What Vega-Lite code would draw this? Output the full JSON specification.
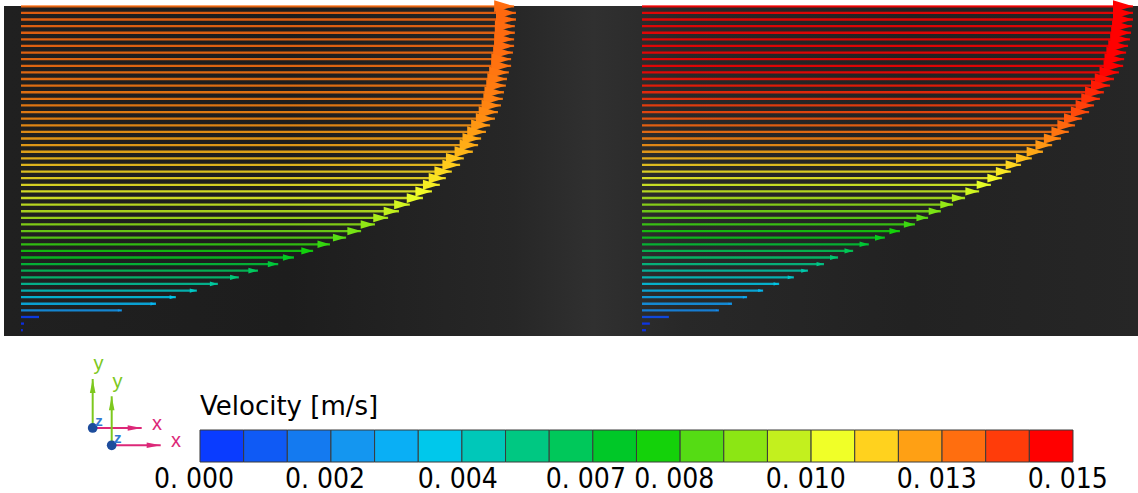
{
  "$schema": "https://vega.github.io/schema/vega-lite/v6.json",
  "padding": {"left": 4, "top": 0, "right": 0, "bottom": 0},
  "bounds": "flush",
  "background": "white",
  "spacing": 94,
  "config": {"view": {"stroke": null}, "axis": {"disable": true}, "legend": {"disable": true}},
  "resolve": {"scale": {"x": "independent", "y": "independent", "color": "independent", "size": "independent"}},
  "datasets": {
    "left": [
      {"row": 0, "v": 0.01315}, {"row": 1, "v": 0.0132}, {"row": 2, "v": 0.0132}, {"row": 3, "v": 0.01317}, {"row": 4, "v": 0.01317},
      {"row": 5, "v": 0.01315}, {"row": 6, "v": 0.01315}, {"row": 7, "v": 0.01312}, {"row": 8, "v": 0.01307}, {"row": 9, "v": 0.01307},
      {"row": 10, "v": 0.01301}, {"row": 11, "v": 0.01296}, {"row": 12, "v": 0.01293}, {"row": 13, "v": 0.01288}, {"row": 14, "v": 0.01285},
      {"row": 15, "v": 0.0128}, {"row": 16, "v": 0.01272}, {"row": 17, "v": 0.01264}, {"row": 18, "v": 0.01251}, {"row": 19, "v": 0.0124},
      {"row": 20, "v": 0.01227}, {"row": 21, "v": 0.01219}, {"row": 22, "v": 0.01205}, {"row": 23, "v": 0.01181}, {"row": 24, "v": 0.01171},
      {"row": 25, "v": 0.01149}, {"row": 26, "v": 0.01133}, {"row": 27, "v": 0.01117}, {"row": 28, "v": 0.01096}, {"row": 29, "v": 0.01072},
      {"row": 30, "v": 0.01037}, {"row": 31, "v": 0.01008}, {"row": 32, "v": 0.00979}, {"row": 33, "v": 0.00944}, {"row": 34, "v": 0.00907},
      {"row": 35, "v": 0.00867}, {"row": 36, "v": 0.00824}, {"row": 37, "v": 0.00779}, {"row": 38, "v": 0.00728}, {"row": 39, "v": 0.00686},
      {"row": 40, "v": 0.00632}, {"row": 41, "v": 0.00581}, {"row": 42, "v": 0.00525}, {"row": 43, "v": 0.00469}, {"row": 44, "v": 0.00413},
      {"row": 45, "v": 0.0036}, {"row": 46, "v": 0.00269}, {"row": 47, "v": 0.00048}, {"row": 48, "v": 0.00008}, {"row": 49, "v": 0.00005}
    ],
    "right": [
      {"row": 0, "v": 0.015}, {"row": 1, "v": 0.015}, {"row": 2, "v": 0.015}, {"row": 3, "v": 0.01497}, {"row": 4, "v": 0.01494},
      {"row": 5, "v": 0.01491}, {"row": 6, "v": 0.01485}, {"row": 7, "v": 0.01479}, {"row": 8, "v": 0.01473}, {"row": 9, "v": 0.0147},
      {"row": 10, "v": 0.01457}, {"row": 11, "v": 0.01442}, {"row": 12, "v": 0.0143}, {"row": 13, "v": 0.01411}, {"row": 14, "v": 0.01399},
      {"row": 15, "v": 0.01381}, {"row": 16, "v": 0.01366}, {"row": 17, "v": 0.01344}, {"row": 18, "v": 0.01323}, {"row": 19, "v": 0.01304},
      {"row": 20, "v": 0.0128}, {"row": 21, "v": 0.01253}, {"row": 22, "v": 0.01225}, {"row": 23, "v": 0.01191}, {"row": 24, "v": 0.01158},
      {"row": 25, "v": 0.01127}, {"row": 26, "v": 0.011}, {"row": 27, "v": 0.01066}, {"row": 28, "v": 0.0103}, {"row": 29, "v": 0.00987},
      {"row": 30, "v": 0.0095}, {"row": 31, "v": 0.00913}, {"row": 32, "v": 0.00874}, {"row": 33, "v": 0.00834}, {"row": 34, "v": 0.00788},
      {"row": 35, "v": 0.00742}, {"row": 36, "v": 0.00693}, {"row": 37, "v": 0.00645}, {"row": 38, "v": 0.00599}, {"row": 39, "v": 0.00556},
      {"row": 40, "v": 0.00507}, {"row": 41, "v": 0.00464}, {"row": 42, "v": 0.00419}, {"row": 43, "v": 0.0037}, {"row": 44, "v": 0.00321},
      {"row": 45, "v": 0.00275}, {"row": 46, "v": 0.00235}, {"row": 47, "v": 0.00082}, {"row": 48, "v": 0.00024}, {"row": 49, "v": 0.00012}
    ],
    "bins": [
      {"seg": 1, "lo": 0, "hi": 0.00075}, {"seg": 2, "lo": 0.00075, "hi": 0.0015}, {"seg": 3, "lo": 0.0015, "hi": 0.00225},
      {"seg": 4, "lo": 0.00225, "hi": 0.003}, {"seg": 5, "lo": 0.003, "hi": 0.00375}, {"seg": 6, "lo": 0.00375, "hi": 0.0045},
      {"seg": 7, "lo": 0.0045, "hi": 0.00525}, {"seg": 8, "lo": 0.00525, "hi": 0.006}, {"seg": 9, "lo": 0.006, "hi": 0.00675},
      {"seg": 10, "lo": 0.00675, "hi": 0.0075}, {"seg": 11, "lo": 0.0075, "hi": 0.00825}, {"seg": 12, "lo": 0.00825, "hi": 0.009},
      {"seg": 13, "lo": 0.009, "hi": 0.00975}, {"seg": 14, "lo": 0.00975, "hi": 0.0105}, {"seg": 15, "lo": 0.0105, "hi": 0.01125},
      {"seg": 16, "lo": 0.01125, "hi": 0.012}, {"seg": 17, "lo": 0.012, "hi": 0.01275}, {"seg": 18, "lo": 0.01275, "hi": 0.0135},
      {"seg": 19, "lo": 0.0135, "hi": 0.01425}, {"seg": 20, "lo": 0.01425, "hi": 0.015}
    ],
    "labels": [
      {"label": "0. 000", "at": -0.000103}, {"label": "0. 002", "at": 0.002147}, {"label": "0. 004", "at": 0.00443},
      {"label": "0. 007", "at": 0.00663}, {"label": "0. 008", "at": 0.00815}, {"label": "0. 010", "at": 0.01041},
      {"label": "0. 013", "at": 0.01266}, {"label": "0. 015", "at": 0.01491}
    ],
    "title": [{"t": "Velocity [m/s]"}],
    "triad": [
      {"axis": "x", "x0": 0, "y0": 0, "x1": 1, "y1": 0},
      {"axis": "y", "x0": 0, "y0": 0, "x1": 0, "y1": 1},
      {"axis": "x", "x0": 0.388, "y0": -0.353, "x1": 1.388, "y1": -0.353},
      {"axis": "y", "x0": 0.388, "y0": -0.353, "x1": 0.388, "y1": 0.647}
    ],
    "origins": [{"axis": "o", "x0": 0, "y0": 0}, {"axis": "o", "x0": 0.388, "y0": -0.353}],
    "triadText": [
      {"axis": "y", "label": "y", "x": 0.12, "y": 1.3}, {"axis": "x", "label": "x", "x": 1.31, "y": 0.09}, {"axis": "z", "label": "z", "x": 0.13, "y": 0.15},
      {"axis": "y", "label": "y", "x": 0.508, "y": 0.947}, {"axis": "x", "label": "x", "x": 1.698, "y": -0.263}, {"axis": "z", "label": "z", "x": 0.51, "y": -0.2}
    ]
  },
  "vconcat": [
    {
      "width": 1134, "height": 330,
      "view": {"fill": {"gradient": "linear", "x1": 0, "y1": 0, "x2": 1, "y2": 0, "stops": [{"offset": 0, "color": "#202020"}, {"offset": 0.25, "color": "#1d1d1d"}, {"offset": 0.45, "color": "#272727"}, {"offset": 0.52, "color": "#303030"}, {"offset": 0.6, "color": "#282828"}, {"offset": 0.8, "color": "#222222"}, {"offset": 1, "color": "#262626"}]}, "stroke": null},
      "resolve": {"scale": {"x": "independent", "size": "independent"}},
      "layer": [
        {
          "data": {"name": "left"},
          "layer": [
            {
              "mark": {"type": "rule", "strokeWidth": 2.3, "opacity": 0.85},
              "encoding": {
                "y": {"field": "row", "type": "quantitative", "scale": {"domain": [-0.045, 49.875], "reverse": true, "nice": false, "zero": false}},
                "x": {"field": "v", "type": "quantitative", "scale": {"domain": [-0.000453, 0.029787], "nice": false, "zero": false}},
                "x2": {"datum": 0},
                "color": {"field": "v", "type": "quantitative", "scale": {"domain": [0.000375, 0.001125, 0.001875, 0.002625, 0.003375, 0.004125, 0.004875, 0.005625, 0.006375, 0.007125, 0.007875, 0.008625, 0.009375, 0.010125, 0.010875, 0.011625, 0.012375, 0.013125, 0.013875, 0.014625], "range": ["#0a3cff", "#0f5af5", "#147af0", "#1496f0", "#0aaff5", "#00c8eb", "#00c8b9", "#00c882", "#00c85a", "#00c828", "#14d20a", "#55dc14", "#8ce614", "#c3f01e", "#f0ff28", "#ffd21e", "#ffa014", "#ff6e0f", "#ff3c0a", "#ff0000"], "interpolate": "rgb"}}
              }
            },
            {
              "mark": {"type": "point", "shape": "M-3,-0.9L0,0L-3,0.9Z", "filled": true, "opacity": 1, "strokeWidth": 0},
              "encoding": {
                "y": {"field": "row", "type": "quantitative"},
                "x": {"field": "v", "type": "quantitative"},
                "size": {"field": "v", "type": "quantitative", "scale": {"type": "pow", "exponent": 2, "domain": [0, 0.0132], "range": [0, 178]}},
                "color": {"field": "v", "type": "quantitative"}
              }
            }
          ]
        },
        {
          "data": {"name": "right"},
          "layer": [
            {
              "mark": {"type": "rule", "strokeWidth": 2.3, "opacity": 0.85},
              "encoding": {
                "y": {"field": "row", "type": "quantitative"},
                "x": {"field": "v", "type": "quantitative", "scale": {"domain": [-0.019491, 0.015153], "nice": false, "zero": false}},
                "x2": {"datum": 0},
                "color": {"field": "v", "type": "quantitative"}
              }
            },
            {
              "mark": {"type": "point", "shape": "M-3,-0.9L0,0L-3,0.9Z", "filled": true, "opacity": 1, "strokeWidth": 0},
              "encoding": {
                "y": {"field": "row", "type": "quantitative"},
                "x": {"field": "v", "type": "quantitative"},
                "size": {"field": "v", "type": "quantitative", "scale": {"type": "pow", "exponent": 2, "domain": [0, 0.015], "range": [0, 178]}},
                "color": {"field": "v", "type": "quantitative"}
              }
            }
          ]
        }
      ]
    },
    {
      "width": 1134, "height": 32,
      "resolve": {"scale": {"x": "independent", "y": "independent", "color": "independent"}},
      "layer": [
        {
          "layer": [
            {
              "data": {"name": "triad"},
              "mark": {"type": "rule", "strokeWidth": 2},
              "encoding": {
                "x": {"field": "x0", "type": "quantitative", "scale": {"domain": [-1.81, 21.333], "nice": false, "zero": false}},
                "y": {"field": "y0", "type": "quantitative", "scale": {"domain": [-0.694, -0.041], "nice": false, "zero": false}},
                "x2": {"field": "x1"},
                "y2": {"field": "y1"},
                "color": {"field": "axis", "type": "nominal", "scale": {"domain": ["x", "y", "z", "o"], "range": ["#dc2878", "#7dc81e", "#3278d2", "#1d4c9c"]}}
              }
            },
            {
              "data": {"name": "triad"},
              "transform": [{"filter": "datum.axis === 'x'"}],
              "mark": {"type": "point", "shape": "M-2,-0.4L0,0L-2,0.4Z", "filled": true, "opacity": 1, "size": 196, "strokeWidth": 0},
              "encoding": {
                "x": {"field": "x1", "type": "quantitative"},
                "y": {"field": "y1", "type": "quantitative"},
                "color": {"field": "axis", "type": "nominal"}
              }
            },
            {
              "data": {"name": "triad"},
              "transform": [{"filter": "datum.axis === 'y'"}],
              "mark": {"type": "point", "shape": "M-0.4,2L0,0L0.4,2Z", "filled": true, "opacity": 1, "size": 196, "strokeWidth": 0},
              "encoding": {
                "x": {"field": "x1", "type": "quantitative"},
                "y": {"field": "y1", "type": "quantitative"},
                "color": {"field": "axis", "type": "nominal"}
              }
            },
            {
              "data": {"name": "origins"},
              "mark": {"type": "point", "shape": "circle", "filled": true, "opacity": 1, "size": 95, "strokeWidth": 0},
              "encoding": {
                "x": {"field": "x0", "type": "quantitative"},
                "y": {"field": "y0", "type": "quantitative"},
                "color": {"field": "axis", "type": "nominal"}
              }
            },
            {
              "data": {"name": "triadText"},
              "transform": [{"filter": "datum.axis !== 'z'"}],
              "mark": {"type": "text", "font": "Liberation Sans", "fontSize": 20, "align": "center", "baseline": "middle"},
              "encoding": {
                "x": {"field": "x", "type": "quantitative"},
                "y": {"field": "y", "type": "quantitative"},
                "text": {"field": "label"},
                "color": {"field": "axis", "type": "nominal"}
              }
            },
            {
              "data": {"name": "triadText"},
              "transform": [{"filter": "datum.axis === 'z'"}],
              "mark": {"type": "text", "font": "Liberation Sans", "fontSize": 15, "fontWeight": "bold", "align": "center", "baseline": "middle"},
              "encoding": {
                "x": {"field": "x", "type": "quantitative"},
                "y": {"field": "y", "type": "quantitative"},
                "text": {"field": "label"},
                "color": {"field": "axis", "type": "nominal"}
              }
            }
          ]
        },
        {
          "layer": [
            {
              "data": {"name": "bins"},
              "mark": {"type": "rect", "stroke": "#3a3a3a", "strokeWidth": 1},
              "encoding": {
                "x": {"field": "lo", "type": "quantitative", "scale": {"domain": [-0.0033677, 0.016117], "nice": false, "zero": false}},
                "x2": {"field": "hi"},
                "y": {"datum": 0, "type": "quantitative", "scale": {"domain": [0, 1], "nice": false, "zero": false}},
                "y2": {"datum": 1},
                "color": {"field": "seg", "type": "ordinal", "scale": {"domain": [1, 2, 3, 4, 5, 6, 7, 8, 9, 10, 11, 12, 13, 14, 15, 16, 17, 18, 19, 20], "range": ["#0a3cff", "#0f5af5", "#147af0", "#1496f0", "#0aaff5", "#00c8eb", "#00c8b9", "#00c882", "#00c85a", "#00c828", "#14d20a", "#55dc14", "#8ce614", "#c3f01e", "#f0ff28", "#ffd21e", "#ffa014", "#ff6e0f", "#ff3c0a", "#ff0000"]}}
              }
            },
            {
              "data": {"name": "labels"},
              "mark": {"type": "text", "font": "DejaVu Sans Condensed", "fontSize": 28, "align": "center", "baseline": "alphabetic", "color": "#000000"},
              "encoding": {
                "x": {"field": "at", "type": "quantitative"},
                "y": {"datum": -0.81, "type": "quantitative"},
                "text": {"field": "label"}
              }
            },
            {
              "data": {"name": "title"},
              "mark": {"type": "text", "font": "DejaVu Sans", "fontSize": 26, "align": "left", "baseline": "alphabetic", "color": "#000000"},
              "encoding": {
                "x": {"datum": 0, "type": "quantitative"},
                "y": {"datum": 1.47, "type": "quantitative"},
                "text": {"field": "t"}
              }
            }
          ]
        }
      ]
    }
  ]
}
